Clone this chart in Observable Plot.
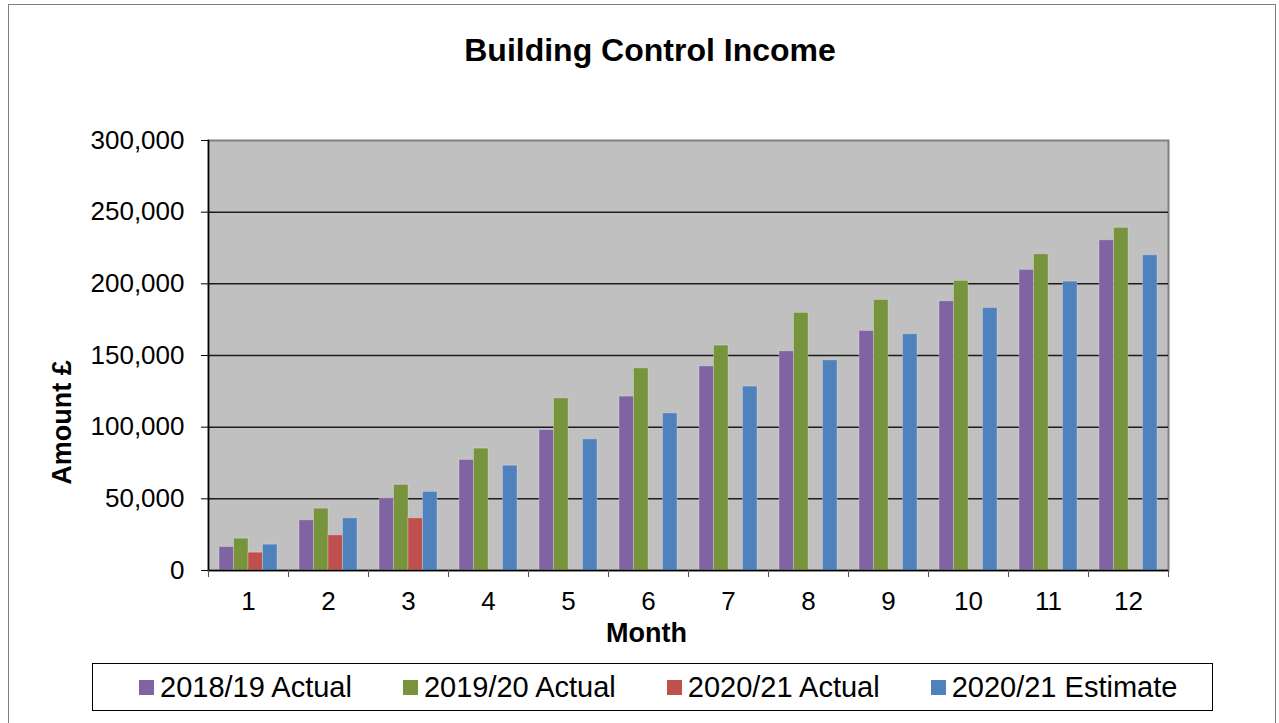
<!DOCTYPE html>
<html>
<head>
<meta charset="utf-8">
<script src="https://cdn.jsdelivr.net/npm/d3@7"></script>
<script src="https://cdn.jsdelivr.net/npm/@observablehq/plot@0.6"></script>
<style>
  html, body { margin: 0; padding: 0; background: #fff; overflow: hidden; }
  body { width: 1279px; height: 723px; position: relative; font-family: "Liberation Sans", Arial, sans-serif; }
  #outer { position: absolute; left: 8px; top: 4px; width: 1268px; height: 800px; border: 1.5px solid #7f7f7f; box-sizing: border-box; }
  #title { position: absolute; left: 0; top: 30px; width: 1300px; text-align: center; font-size: 32px; font-weight: bold; line-height: 40px; color: #000; }
  #chart { position: absolute; left: 0; top: 0; }
  #legend { position: absolute; left: 92px; top: 663px; width: 1121px; height: 48px; border: 1px solid #000; box-sizing: border-box; display: flex; align-items: center; padding-left: 46px; gap: 51px; background: #fff; }
  .item { display: flex; align-items: center; font-size: 29px; color: #000; white-space: nowrap; }
  .sw { width: 15px; height: 15px; margin-right: 6px; display: inline-block; }
</style>
</head>
<body>
<div id="outer"></div>
<div id="chart"></div>
<div id="title">Building Control Income</div>
<div id="legend"></div>
<script>
// ---- data ----
const months = [1, 2, 3, 4, 5, 6, 7, 8, 9, 10, 11, 12];
const seriesNames = ["2018/19 Actual", "2019/20 Actual", "2020/21 Actual", "2020/21 Estimate"];
const seriesColors = ["#8064A2", "#77933C", "#C0504D", "#4F81BD"];
const actual2018 = [16400, 35000, 50400, 77100, 98000, 121300, 142400, 152900, 167100, 187800, 209700, 230400];
const actual2019 = [22200, 43100, 59700, 85000, 120100, 141000, 156900, 179700, 188700, 202000, 220600, 239000];
const actual2020 = [12400, 24500, 36400];
const estimate2020 = [18000, 36400, 54800, 73100, 91500, 109600, 128300, 146600, 164800, 183100, 201500, 219900];
const yTicks = [0, 50000, 100000, 150000, 200000, 250000, 300000];
const yLabel = "Amount £";
const xLabel = "Month";

const seriesValues = [actual2018, actual2019, actual2020, estimate2020];
const rows = seriesValues.map((vals, i) =>
  vals.map((v, j) => ({month: months[j], series: seriesNames[i], value: v})));

const bandW = 58; // bandwidth of the month band (960 * 0.725 / 12)
const barW = bandW / 4;

const barMarks = rows.map((data, i) => Plot.barY(data, {
  x: "month", y: "value", fill: seriesColors[i],
  insetLeft: i * barW, insetRight: (3 - i) * barW,
  stroke: "#ffffff", strokeOpacity: 0.25, strokeWidth: 1
}));

const chart = Plot.plot({
  width: 1279,
  height: 660,
  marginLeft: 208,
  marginRight: 111,
  marginTop: 140,
  marginBottom: 90,
  style: {fontFamily: "'Liberation Sans', Arial, sans-serif", fontSize: "26px", color: "#000", background: "transparent", overflow: "visible"},
  x: {type: "band", domain: months, paddingInner: 0.275, paddingOuter: 0.1375, round: false, axis: null},
  y: {domain: [0, 300000], axis: null},
  marks: [
    Plot.frame({fill: "#C0C0C0", stroke: "#808080", strokeWidth: 2}),
    Plot.gridY(yTicks.slice(1, -1), {stroke: "#000", strokeOpacity: 0.85, strokeWidth: 1.5}),
    ...barMarks,
    Plot.ruleY([0], {stroke: "#000", strokeWidth: 1.5}),
    Plot.frame({anchor: "left", stroke: "#000", strokeWidth: 1.5}),
    Plot.axisY({ticks: yTicks, tickSize: 7, tickPadding: 17, tickFormat: d3.format(","), color: "#000", fontSize: 26, label: null}),
    Plot.axisX({ticks: months, tickSize: 0, tickPadding: 21, color: "#000", fontSize: 26, label: null}),
    Plot.axisX({ticks: months, tickSize: 7, tickFormat: () => "", dx: -40, color: "#555", label: null}),
    Plot.axisX({ticks: [months[months.length - 1]], tickSize: 7, tickFormat: () => "", dx: 40, color: "#555", label: null}),
    Plot.text([xLabel], {frameAnchor: "bottom", lineAnchor: "middle", textAnchor: "middle", dx: -42, dy: 63, fontWeight: "bold", fontSize: 27, fill: "#000"}),
    Plot.text([yLabel], {frameAnchor: "left", lineAnchor: "middle", textAnchor: "middle", rotate: -90, dx: -146, dy: 67, fontWeight: "bold", fontSize: 27, fill: "#000"})
  ]
});
document.getElementById("chart").appendChild(chart);

const legend = document.getElementById("legend");
seriesNames.forEach((name, i) => {
  const item = document.createElement("div");
  item.className = "item";
  const sw = document.createElement("span");
  sw.className = "sw";
  sw.style.background = seriesColors[i];
  const t = document.createElement("span");
  t.textContent = name;
  item.appendChild(sw);
  item.appendChild(t);
  legend.appendChild(item);
});
</script>
</body>
</html>
